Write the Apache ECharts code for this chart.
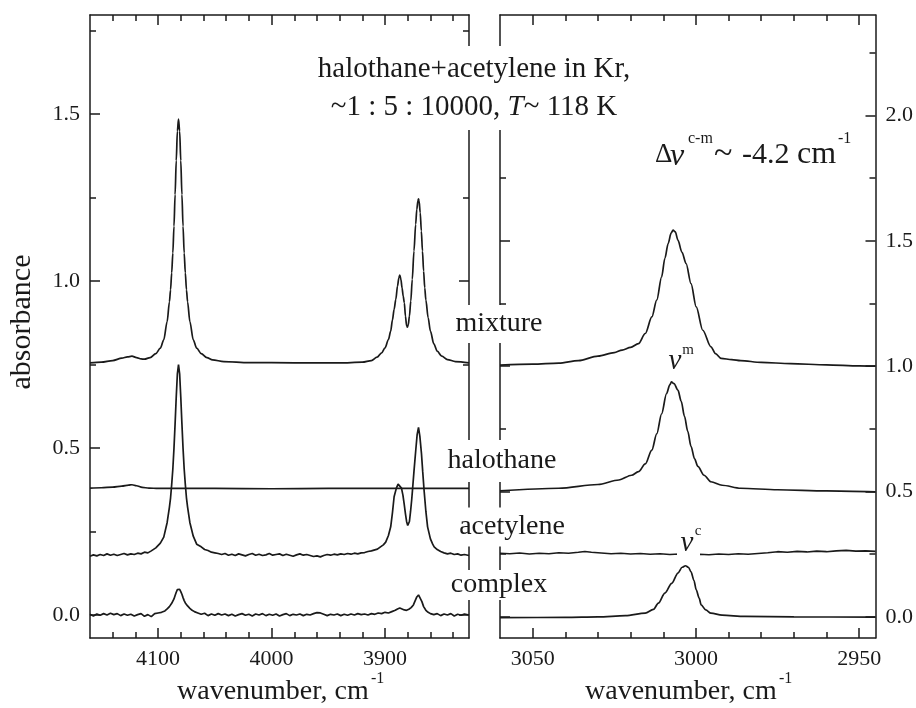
<!DOCTYPE html>
<html>
<head>
<meta charset="utf-8">
<script src="https://cdn.jsdelivr.net/npm/echarts@6/dist/echarts.min.js"></script>
<style>
  html, body { margin: 0; padding: 0; background: #fff; }
  #chart { width: 916px; height: 708px; }
</style>
</head>
<body>
<div id="chart"></div>
<script>
// ticks
const xLeftMajor = [4100, 4000, 3900]
const xLeftMinor = [4140, 4120, 4080, 4060, 4040, 4020, 3980, 3960, 3940, 3920, 3880, 3860, 3840]
const xRightMajor = [3050, 3000, 2950]
const xRightMinor = [3040, 3030, 3020, 3010, 2990, 2980, 2970, 2960]
const yLeftMajor = [0, 0.5, 1.0, 1.5]
const yLeftMinor = [0.25, 0.75, 1.25, 1.75]
const yRightMajor = [0, 0.5, 1.0, 1.5, 2.0]
const yRightMinor = [0.25, 0.75, 1.25, 1.75, 2.25]

// left panel (4160 - 3826 cm-1), absorbance on left axis
const mixtureL = [
  [4160, 0.755], [4150, 0.757], [4140, 0.762], [4132, 0.769], [4127, 0.773], [4123, 0.775], [4119, 0.771],
  [4115, 0.767], [4112, 0.766], [4107, 0.771], [4102, 0.783], [4098, 0.799], [4095, 0.824], [4092, 0.879],
  [4090, 0.938], [4089, 0.974], [4088, 1.025], [4087, 1.084], [4086, 1.164], [4085, 1.259], [4084, 1.361],
  [4083, 1.449], [4082, 1.485], [4081, 1.449], [4080, 1.361], [4079, 1.259], [4078, 1.164], [4077, 1.084],
  [4076, 1.025], [4075, 0.974], [4074, 0.938], [4072, 0.879], [4069, 0.824], [4066, 0.799], [4062, 0.783],
  [4057, 0.771], [4052, 0.764], [4042, 0.759], [4020, 0.756], [3980, 0.755], [3940, 0.755], [3920, 0.757],
  [3912, 0.762], [3907, 0.772], [3903, 0.785], [3900, 0.800], [3897, 0.825], [3895, 0.850], [3893.5, 0.883],
  [3892, 0.915], [3890.5, 0.945], [3889, 0.985], [3887.8, 1.010], [3887, 1.018], [3886, 1.005], [3885, 0.980],
  [3884, 0.955], [3883, 0.935], [3882, 0.895], [3881, 0.866], [3880.3, 0.862], [3879.5, 0.870], [3878.5, 0.895],
  [3877.3, 0.940], [3876, 1.005], [3874.5, 1.090], [3873, 1.170], [3872, 1.215], [3871, 1.240], [3870.5, 1.246],
  [3870, 1.240], [3869, 1.205], [3868, 1.150], [3867, 1.090], [3866, 1.030], [3865, 0.980], [3864, 0.943],
  [3862, 0.890], [3860, 0.850], [3857, 0.812], [3854, 0.790], [3850, 0.775], [3845, 0.765], [3838, 0.759],
  [3826, 0.755]
]
const halothaneL = [
  [4160, 0.380], [4150, 0.381], [4140, 0.383], [4132, 0.386], [4126, 0.389], [4123, 0.390], [4119, 0.387],
  [4114, 0.382], [4108, 0.380], [4100, 0.379], [4050, 0.379], [4000, 0.378], [3950, 0.379], [3900, 0.379],
  [3850, 0.379], [3826, 0.379]
]
const acetyleneL = [
  [4160, 0.176], [4157, 0.180], [4154, 0.177], [4151, 0.181], [4148, 0.178], [4145, 0.183], [4142, 0.179],
  [4139, 0.182], [4136, 0.178], [4133, 0.181], [4130, 0.184], [4127, 0.180], [4124, 0.183], [4121, 0.181],
  [4118, 0.185], [4115, 0.183], [4112, 0.188], [4109, 0.186], [4106, 0.192], [4102, 0.201], [4098, 0.215],
  [4095, 0.233], [4092, 0.277], [4090, 0.323], [4089, 0.351], [4088, 0.391], [4087, 0.437], [4086, 0.499],
  [4085, 0.573], [4084, 0.653], [4083, 0.722], [4082, 0.750], [4081, 0.722], [4080, 0.653], [4079, 0.573],
  [4078, 0.499], [4077, 0.437], [4076, 0.391], [4075, 0.351], [4074, 0.323], [4072, 0.277], [4069, 0.236],
  [4066, 0.212], [4062, 0.204], [4059, 0.196], [4056, 0.193], [4053, 0.188], [4050, 0.186], [4047, 0.184],
  [4044, 0.181], [4041, 0.184], [4038, 0.179], [4035, 0.182], [4032, 0.178], [4029, 0.183], [4026, 0.180],
  [4023, 0.177], [4020, 0.181], [4017, 0.184], [4014, 0.179], [4011, 0.182], [4008, 0.178], [4005, 0.180],
  [4002, 0.184], [3999, 0.179], [3996, 0.181], [3993, 0.183], [3990, 0.178], [3987, 0.182], [3984, 0.179],
  [3981, 0.176], [3978, 0.180], [3975, 0.183], [3972, 0.179], [3969, 0.181], [3966, 0.178], [3963, 0.175],
  [3960, 0.177], [3957, 0.174], [3954, 0.178], [3951, 0.181], [3948, 0.179], [3945, 0.182], [3942, 0.180],
  [3939, 0.183], [3936, 0.181], [3933, 0.184], [3930, 0.182], [3927, 0.185], [3924, 0.183], [3921, 0.186],
  [3918, 0.187], [3915, 0.190], [3912, 0.192], [3909, 0.195], [3906.7, 0.197], [3904, 0.204], [3901.5, 0.210],
  [3899.4, 0.218], [3897, 0.238], [3895, 0.264], [3893.5, 0.305], [3892, 0.354], [3890, 0.380], [3888.5, 0.392],
  [3887, 0.394], [3885.5, 0.380], [3884.2, 0.358], [3883.2, 0.334], [3882, 0.303], [3881, 0.280], [3880, 0.268],
  [3879.5, 0.266], [3878.5, 0.280], [3877.5, 0.310], [3876.5, 0.345], [3875.8, 0.374], [3874.5, 0.430],
  [3872.9, 0.494], [3871.7, 0.540], [3870.5, 0.562], [3869.3, 0.535], [3867.9, 0.484], [3866.8, 0.430],
  [3865.6, 0.374], [3864, 0.310], [3862.5, 0.264], [3860, 0.228], [3858, 0.212], [3856.7, 0.204], [3854, 0.196],
  [3851, 0.190], [3848, 0.186], [3845, 0.183], [3842, 0.185], [3839, 0.181], [3836, 0.183], [3833, 0.179],
  [3830, 0.181], [3826, 0.178]
]
const complexL = [
  [4160, 0.002], [4157, -0.003], [4154, 0.003], [4151, -0.001], [4148, 0.004], [4145, 0.000], [4142, 0.005],
  [4139, 0.001], [4136, 0.004], [4133, -0.002], [4130, 0.003], [4127, -0.001], [4124, 0.002], [4121, -0.003],
  [4118, 0.001], [4115, 0.004], [4112, -0.004], [4109, 0.001], [4106, -0.005], [4103, 0.004], [4100, 0.006],
  [4097, 0.008], [4094, 0.012], [4092, 0.018], [4090, 0.025], [4088, 0.035], [4086, 0.048], [4085, 0.058],
  [4084, 0.068], [4083, 0.076], [4082, 0.080], [4081, 0.077], [4080, 0.070], [4079, 0.062], [4078, 0.052],
  [4077, 0.043], [4076, 0.036], [4074, 0.027], [4072, 0.020], [4070, 0.014], [4068, 0.010], [4065, 0.006],
  [4062, 0.002], [4059, 0.005], [4056, -0.002], [4053, 0.003], [4050, -0.001], [4047, 0.004], [4044, 0.000],
  [4041, 0.003], [4038, -0.002], [4035, 0.002], [4032, -0.003], [4029, 0.001], [4026, 0.004], [4023, -0.001],
  [4020, 0.002], [4017, -0.003], [4014, 0.003], [4011, 0.000], [4008, 0.004], [4005, -0.002], [4002, 0.002],
  [3999, -0.001], [3996, 0.003], [3993, -0.003], [3990, 0.001], [3987, 0.004], [3984, -0.002], [3981, 0.002],
  [3978, 0.000], [3975, 0.003], [3972, -0.002], [3969, 0.002], [3966, 0.000], [3963, 0.004], [3960, 0.007],
  [3957, 0.006], [3954, 0.002], [3951, -0.002], [3948, 0.002], [3945, 0.000], [3942, 0.003], [3939, -0.002],
  [3936, 0.002], [3933, -0.001], [3930, 0.003], [3927, 0.000], [3924, 0.004], [3921, 0.001], [3918, 0.003],
  [3915, 0.000], [3912, 0.004], [3909, 0.002], [3906, 0.006], [3903, 0.004], [3900, 0.008], [3897, 0.006],
  [3894, 0.010], [3891, 0.014], [3889, 0.018], [3887, 0.021], [3885, 0.018], [3883, 0.015], [3881, 0.014],
  [3879, 0.017], [3877, 0.022], [3875, 0.030], [3873.5, 0.042], [3872, 0.054], [3870.5, 0.060], [3869, 0.055],
  [3867.5, 0.040], [3866, 0.025], [3864, 0.014], [3862, 0.008], [3860, 0.004], [3857, 0.001], [3854, 0.004],
  [3851, -0.002], [3848, 0.003], [3845, 0.000], [3842, 0.004], [3839, -0.003], [3836, 0.002], [3833, -0.001],
  [3830, 0.003], [3826, 0.000]
]

// right panel (3060 - 2945 cm-1), absorbance on right axis
const mixtureR = [
  [3060, 1.004], [3050, 1.008], [3042, 1.012], [3036, 1.022], [3030, 1.040], [3025, 1.054], [3022.6, 1.064],
  [3020, 1.075], [3017.6, 1.090], [3015.5, 1.130], [3013.5, 1.196], [3012, 1.263], [3010.5, 1.356],
  [3009.5, 1.430], [3008.5, 1.489], [3007.6, 1.530], [3007, 1.542], [3006.3, 1.535], [3005.5, 1.502],
  [3004.3, 1.455], [3003, 1.409], [3001.5, 1.329], [2999.9, 1.236], [2997.9, 1.143], [2995.4, 1.077],
  [2994, 1.050], [2992.3, 1.031], [2989, 1.026], [2986.3, 1.022], [2980, 1.015], [2971, 1.010], [2960, 1.005],
  [2950, 1.001], [2945, 1.000]
]
const halothaneR = [
  [3060, 0.503], [3042, 0.513], [3030, 0.528], [3023.6, 0.546], [3019.7, 0.565], [3017.6, 0.579], [3015.5, 0.610],
  [3013.5, 0.665], [3012, 0.730], [3010.5, 0.810], [3009, 0.890], [3008, 0.925], [3007.5, 0.937], [3006.7, 0.930],
  [3005.5, 0.904], [3004.5, 0.860], [3003.5, 0.800], [3002.5, 0.740], [3001.5, 0.680], [3000.4, 0.630],
  [2999.4, 0.600], [2997.5, 0.565], [2995.4, 0.539], [2992, 0.525], [2986.3, 0.513], [2975, 0.507],
  [2960, 0.503], [2945, 0.499]
]
const acetyleneR = [
  [3060, 0.254], [3057, 0.252], [3054, 0.255], [3051, 0.251], [3048, 0.254], [3045, 0.252], [3042, 0.256],
  [3039, 0.254], [3036, 0.258], [3034, 0.261], [3032, 0.258], [3029, 0.255], [3026, 0.252], [3023, 0.254],
  [3020, 0.251], [3017, 0.253], [3014, 0.250], [3011, 0.252], [3008, 0.249], [3005, 0.251], [3002, 0.249],
  [2999, 0.250], [2996, 0.248], [2993, 0.251], [2990, 0.249], [2987, 0.252], [2984, 0.250], [2981, 0.253],
  [2978, 0.256], [2975, 0.260], [2972, 0.258], [2969, 0.261], [2966, 0.259], [2963, 0.262], [2960, 0.260],
  [2957, 0.263], [2954, 0.265], [2951, 0.262], [2948, 0.263], [2945, 0.261]
]
const complexR = [
  [3060, -0.003], [3040, -0.002], [3030, 0.000], [3021.6, 0.005], [3015.5, 0.015], [3013, 0.030], [3011.5, 0.055],
  [3009.5, 0.095], [3007.4, 0.134], [3005.5, 0.175], [3004.2, 0.198], [3003.2, 0.204], [3002.3, 0.198],
  [3001.5, 0.180], [3000.6, 0.145], [2999.9, 0.108], [2999, 0.075], [2998.4, 0.048], [2997, 0.028],
  [2995.4, 0.015], [2992, 0.007], [2985, 0.002], [2970, 0.000], [2945, -0.001]
]

const FONT = 'Liberation Serif'
const INK = '#1a1a1a'

function axis (grid, pos, min, max, inverse, ticks, len, labels, line, fmt) {
  return {
    type: 'value',
    gridIndex: grid,
    position: pos,
    min: min,
    max: max,
    inverse: inverse,
    axisLine: { show: line, onZero: false, lineStyle: { color: INK, width: 1.5 } },
    axisTick: { show: true, inside: true, length: len, customValues: ticks, lineStyle: { color: INK, width: 1.5 } },
    axisLabel: {
      show: labels,
      customValues: ticks,
      margin: 10,
      color: INK,
      fontFamily: FONT,
      fontSize: 22,
      formatter: fmt
    },
    splitLine: { show: false }
  }
}
const fx = function (v) { return String(Math.round(v)) }
const fy = function (v) { return v.toFixed(1) }

const xAxes = [
  axis(0, 'bottom', 3826, 4160, true, xLeftMajor, 10, true, true, fx),
  axis(0, 'bottom', 3826, 4160, true, xLeftMinor, 6, false, false),
  axis(0, 'top', 3826, 4160, true, xLeftMajor, 10, false, true),
  axis(0, 'top', 3826, 4160, true, xLeftMinor, 6, false, false),
  axis(1, 'bottom', 2945, 3060, true, xRightMajor, 10, true, true, fx),
  axis(1, 'bottom', 2945, 3060, true, xRightMinor, 6, false, false),
  axis(1, 'top', 2945, 3060, true, xRightMajor, 10, false, true),
  axis(1, 'top', 2945, 3060, true, xRightMinor, 6, false, false)
]
const yAxes = [
  axis(0, 'left', -0.069, 1.797, false, yLeftMajor, 10, true, true, fy),
  axis(0, 'left', -0.069, 1.797, false, yLeftMinor, 6, false, false),
  axis(0, 'right', -0.069, 1.797, false, yLeftMajor, 10, false, true),
  axis(0, 'right', -0.069, 1.797, false, yLeftMinor, 6, false, false),
  axis(1, 'right', -0.084, 2.4, false, yRightMajor, 10, true, true, fy),
  axis(1, 'right', -0.084, 2.4, false, yRightMinor, 6, false, false),
  axis(1, 'left', -0.084, 2.4, false, yRightMajor, 10, false, true),
  axis(1, 'left', -0.084, 2.4, false, yRightMinor, 6, false, false)
]

function trace (data, panel, smooth) {
  return {
    type: 'line',
    data: data,
    xAxisIndex: panel === 0 ? 0 : 4,
    yAxisIndex: panel === 0 ? 0 : 4,
    showSymbol: false,
    smooth: smooth,
    smoothMonotone: 'x',
    silent: true,
    lineStyle: { color: INK, width: 1.7 }
  }
}

function label (text, x, y, size, italic) {
  return {
    type: 'text',
    x: x,
    y: y,
    z: 100,
    style: {
      text: text,
      fill: INK,
      fontFamily: FONT,
      fontSize: size,
      fontStyle: italic ? 'italic' : 'normal',
      align: 'center',
      verticalAlign: 'middle'
    }
  }
}
function boxed (text, x, y, size, lh) {
  const el = label(text, x, y, size)
  el.style.backgroundColor = '#fff'
  el.style.lineHeight = lh
  el.style.padding = [4, 6]
  return el
}
function piece (text, x, y, size, italic) {
  const el = label(text, x, y, size, italic)
  el.style.align = 'left'
  return el
}

const chart = echarts.init(document.getElementById('chart'))
chart.setOption({
  backgroundColor: '#fff',
  animation: false,
  grid: [
    { left: 90, top: 15, width: 379, height: 623 },
    { left: 500, top: 15, width: 378, height: 623 }
  ],
  xAxis: xAxes,
  yAxis: yAxes,
  series: [
    trace(mixtureL, 0, 0.3), trace(halothaneL, 0, 0.3), trace(acetyleneL, 0, false), trace(complexL, 0, false),
    trace(mixtureR, 1, 0.3), trace(halothaneR, 1, 0.3), trace(acetyleneR, 1, false), trace(complexR, 1, 0.3)
  ],
  graphic: [
    {
      type: 'text',
      x: 474,
      y: 88,
      z: 100,
      style: {
        text: 'halothane+acetylene in Kr,\n~1 : 5 : 10000, {it|T}~ 118 K',
        fill: INK,
        fontFamily: FONT,
        fontSize: 29,
        lineHeight: 38,
        align: 'center',
        verticalAlign: 'middle',
        backgroundColor: '#fff',
        padding: [4, 8],
        rich: {
          it: { fontStyle: 'italic', fontFamily: FONT, fontSize: 29, lineHeight: 38, fill: INK }
        }
      }
    },
    boxed('mixture', 499, 324, 28, 30),
    boxed('halothane', 502, 461, 28, 34),
    boxed('acetylene', 512, 527, 28, 31),
    boxed('complex', 499, 585, 28, 22),
    // gap in the acetylene trace under the nu^c label
    { type: 'rect', z: 99, shape: { x: 677, y: 527, width: 23, height: 32 }, style: { fill: '#fff' } },
    label('ν', 675, 361, 29, true),
    label('m', 688, 350, 15),
    label('ν', 687, 543, 29, true),
    label('c', 698, 531, 15),
    // delta nu annotation
    piece('Δ', 655, 155, 27),
    piece('ν', 670, 157, 32, true),
    piece('c-m', 688, 139, 16),
    piece('~', 714, 154, 34),
    piece('-4.2', 742, 155, 30),
    piece('cm', 797, 155, 32),
    piece('-1', 838, 139, 16),
    // axis titles
    { type: 'text', x: 22, y: 322, z: 100, rotation: Math.PI / 2, style: { text: 'absorbance', fill: INK, fontFamily: FONT, fontSize: 30, align: 'center', verticalAlign: 'middle' } },
    piece('wavenumber, cm', 177, 692, 28),
    piece('-1', 371, 679, 16),
    piece('wavenumber, cm', 585, 692, 28),
    piece('-1', 779, 679, 16)
  ]
})
</script>
</body>
</html>
